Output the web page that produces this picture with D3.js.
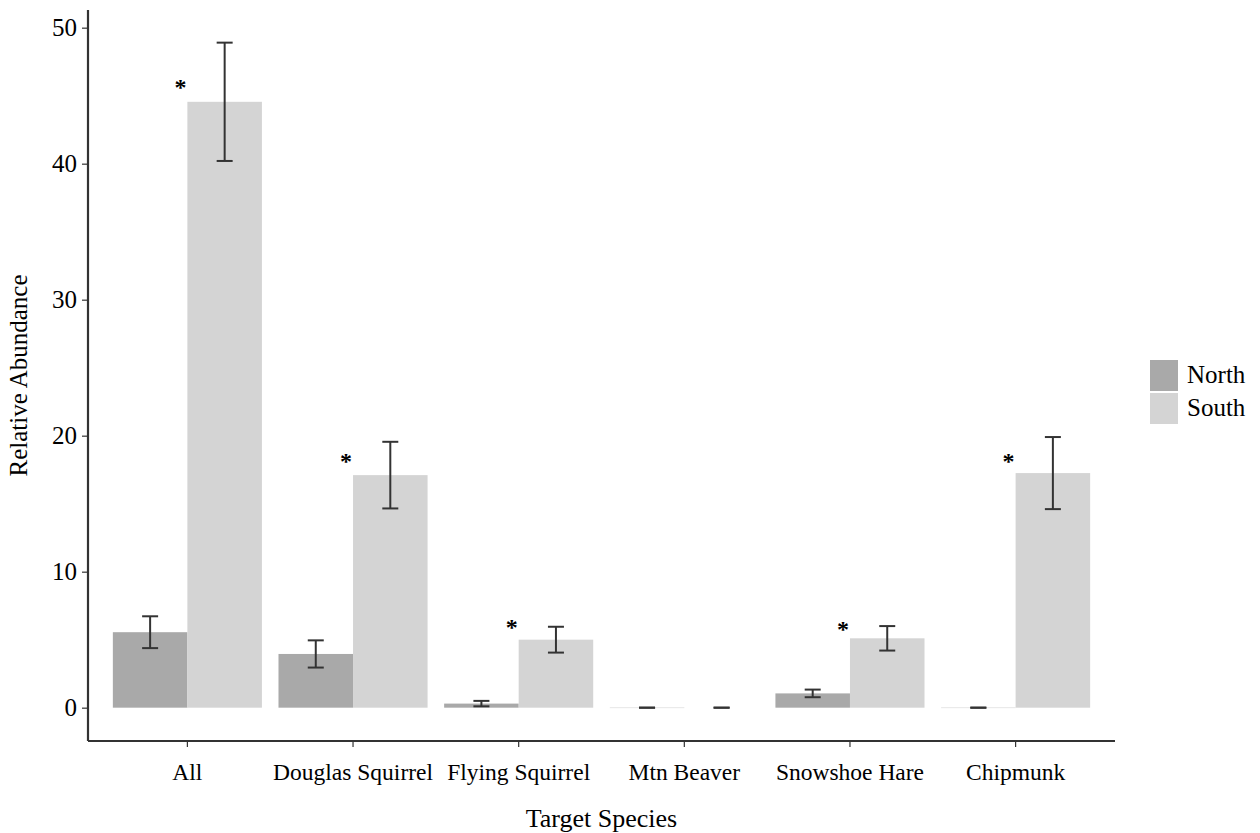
<!DOCTYPE html>
<html><head><meta charset="utf-8">
<script src="https://cdn.jsdelivr.net/npm/d3@7"></script>
<style>body{margin:0;background:#fff}svg{display:block}text{font-family:"Liberation Serif","Times New Roman",serif;fill:#000}</style>
</head><body><svg id="c" width="1260" height="833"></svg>
<script>
const categories = ["All","Douglas Squirrel","Flying Squirrel","Mtn Beaver","Snowshoe Hare","Chipmunk"];
const groups = ["North","South"];
const northMean = [5.55, 3.95, 0.3, 0, 1.05, 0];
const northSE   = [1.17, 1.0, 0.2, 0, 0.28, 0];
const southMean = [44.55, 17.1, 5.0, 0, 5.1, 17.25];
const southSE   = [4.35, 2.45, 0.95, 0, 0.9, 2.65];
const starY     = [45.8, 18.3, 6.1, null, 5.9, 18.3];
const yTicks = [0,10,20,30,40,50];
const colors = {North:"#a9a9a9", South:"#d4d4d4"};

const svg = d3.select("#c");
const L = 88, R = 1115, T = 10, B = 741;
const x = d3.scaleBand().domain(categories).range([L,R]).paddingOuter(0.1).paddingInner(0);
const xs = d3.scaleBand().domain(groups).range([0, x.bandwidth()*0.9]);
const y = d3.scaleLinear().domain([-2.45, 51.3]).range([B, T]);

const data = [];
categories.forEach((c,i)=>{
  data.push({c, g:"North", m:northMean[i], se:northSE[i]});
  data.push({c, g:"South", m:southMean[i], se:southSE[i]});
});
const bx = d => x(d.c) + x.bandwidth()*0.05 + xs(d.g);

svg.append("g").selectAll("rect").data(data).join("rect")
  .attr("x", bx).attr("width", xs.bandwidth())
  .attr("y", d => d.m > 0 ? y(d.m) : y(0) - 0.5)
  .attr("height", d => d.m > 0 ? y(0) - y(d.m) : (d.g==="North" ? 1 : 0))
  .attr("fill", d => d.g==="North" && d.m===0 ? "#e6e6e6" : colors[d.g]);

const eb = svg.append("g").attr("stroke","#333").attr("stroke-width",2).attr("fill","none");
const capW = 16;
data.forEach(d=>{
  const cx = bx(d) + xs.bandwidth()/2;
  const y1 = y(d.m + d.se), y2 = y(d.m - d.se);
  if (d.se > 0) eb.append("line").attr("x1",cx).attr("x2",cx).attr("y1",y1).attr("y2",y2);
  eb.append("line").attr("x1",cx-capW/2).attr("x2",cx+capW/2).attr("y1",y1).attr("y2",y1);
  eb.append("line").attr("x1",cx-capW/2).attr("x2",cx+capW/2).attr("y1",y2).attr("y2",y2);
});

svg.append("g").selectAll("text").data(categories.map((c,i)=>({c, v:starY[i]})).filter(d=>d.v!==null)).join("text")
  .attr("x", d => x(d.c) + x.bandwidth()/2 - 7)
  .attr("y", d => y(d.v) + 10)
  .attr("text-anchor","middle").attr("font-size",24).attr("font-weight","bold")
  .text("*");

// axes
const yAxis = svg.append("g").attr("transform",`translate(${L},0)`)
  .call(d3.axisLeft(y).tickValues(yTicks).tickSize(6).tickPadding(5));
const xAxis = svg.append("g").attr("transform",`translate(0,${B})`)
  .call(d3.axisBottom(x).tickSize(6).tickPadding(16));
[yAxis,xAxis].forEach(a=>{
  a.select(".domain").attr("stroke","#333").attr("stroke-width",2.2);
  a.selectAll(".tick line").attr("stroke","#333").attr("stroke-width",1.2);
  a.selectAll("text").attr("fill","#000").style("font-family",'"Liberation Serif",serif');
});
yAxis.select(".domain").attr("d",`M0,${T}V${B}`);
xAxis.select(".domain").attr("d",`M${L},0H${R}`);
yAxis.selectAll(".tick text").attr("font-size",25);
xAxis.selectAll(".tick text").attr("font-size",23.5);

svg.append("text").attr("x",(L+R)/2).attr("y",827).attr("text-anchor","middle").attr("font-size",26).text("Target Species");
svg.append("text").attr("transform",`translate(27,${(T+B)/2}) rotate(-90)`).attr("text-anchor","middle").attr("font-size",25).text("Relative Abundance");

// legend
const lg = svg.append("g").attr("transform","translate(1150,360)");
groups.forEach((g,i)=>{
  lg.append("rect").attr("x",0).attr("y",i*33).attr("width",28).attr("height",31).attr("fill",colors[g]);
  lg.append("text").attr("x",37).attr("y",i*33+23).attr("font-size",25).text(g);
});
</script></body></html>
